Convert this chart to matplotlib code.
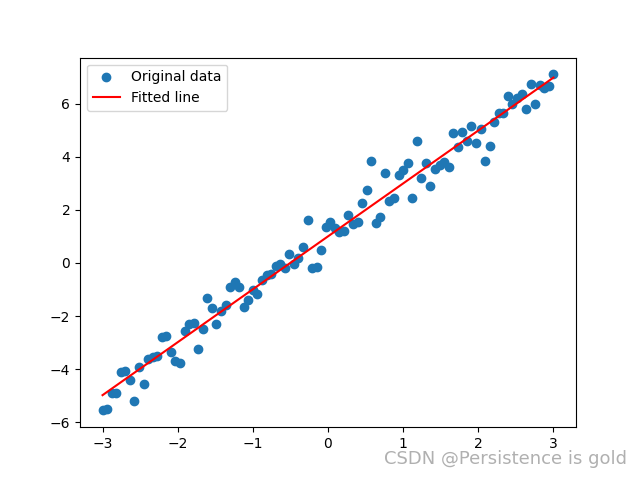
import numpy as np
import matplotlib.pyplot as plt

# data
x = np.linspace(-3, 3, 100)
y = np.array([
    -5.55, -5.5, -4.9, -4.9, -4.1, -4.05, -4.4, -5.2, -3.9, -4.55,
    -3.6, -3.55, -3.5, -2.8, -2.75, -3.35, -3.7, -3.75, -2.55, -2.3,
    -2.25, -3.25, -2.5, -1.3, -1.7, -2.3, -1.8, -1.6, -0.9, -0.7,
    -0.9, -1.65, -1.4, -1.0, -1.15, -0.65, -0.45, -0.4, -0.1, -0.05,
    -0.2, 0.35, -0.05, 0.2, 0.6, 1.6, -0.2, -0.15, 0.5, 1.35,
    1.55, 1.3, 1.15, 1.2, 1.8, 1.45, 1.55, 2.25, 2.75, 3.85,
    1.5, 1.75, 3.4, 2.35, 2.45, 3.3, 3.5, 3.75, 2.45, 4.6,
    3.2, 3.75, 2.9, 3.55, 3.7, 3.8, 3.6, 4.9, 4.35, 4.95,
    4.6, 5.15, 4.5, 5.05, 3.85, 4.4, 5.3, 5.65, 5.65, 6.3,
    6.0, 6.2, 6.35, 5.8, 6.75, 6.0, 6.7, 6.6, 6.65, 7.1,
])

# least squares fit
slope, intercept = np.polyfit(x, y, 1)

fig = plt.figure(figsize=(6.4, 4.8), dpi=100)
plt.scatter(x, y, label='Original data')
plt.plot(x, slope * x + intercept, 'r-', label='Fitted line')
plt.legend()

fig.text(0.98, 0.025, 'CSDN @Persistence is gold', ha='right', va='bottom',
         fontsize=13, color='#b0b0b0')

plt.savefig('out.png')
